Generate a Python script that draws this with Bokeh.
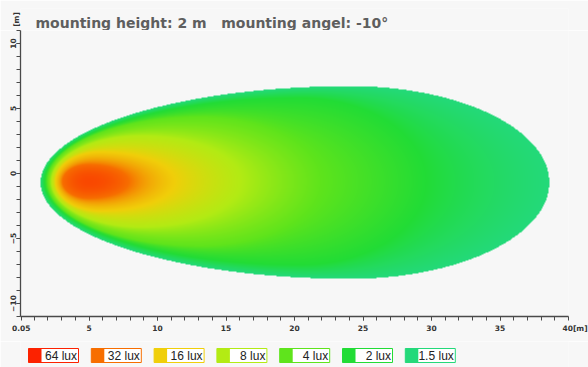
import numpy as np
from bokeh.plotting import figure
from bokeh.models import FixedTicker, Range1d
from bokeh.layouts import column
from bokeh.embed import file_html
from bokeh.resources import INLINE
from bokeh.core.properties import value

# ---------------- data ----------------
title_text = "mounting height: 2 m   mounting angel: -10°"
unit_text = "[m]"

legend_labels = ["64 lux", "32 lux", "16 lux", "8 lux", "4 lux", "2 lux", "1.5 lux"]
legend_colors = ["#fc2200", "#f76e00", "#f0cf0a", "#b3eb14", "#5fe41c", "#22dc36", "#24d97a"]

# isolux contours (metres), outermost first
contour_lux = [1.5, 2, 4, 8, 16, 32]
contour_left = [1.46, 1.75, 1.97, 2.26, 2.55, 3.07]
contour_widest = [24.1, 20.4, 13.1, 8.76, 5.84, 4.96]
contour_right = [38.6, 29.6, 21.9, 16.1, 11.3, 7.9]
contour_half = [7.41, 6.42, 4.97, 3.51, 2.29, 1.30]
contour_center = [-0.69, -0.61, -0.61, -0.61, -0.61, -0.61]
peak_lux = 45

x_major = [0.05, 5, 10, 15, 20, 25, 30, 35, 40]
x_minor = list(range(1, 40))
y_major = [-10, -5, 0, 5, 10]
y_minor = list(range(-11, 12))

X0, X1 = 0.0, 40.0
Y0, Y1 = -11.0, 11.0

BG = "#f7f7f7"
AX = "#4a4a4a"
W = 588
BL, BR = 20, 20          # left / right borders shared by all strips

# ---------------- illuminance field from the contours ----------------
nx, ny = 548, 286
xs = X0 + (np.arange(nx) + 0.5) * (X1 - X0) / nx
ys = Y0 + (np.arange(ny) + 0.5) * (Y1 - Y0) / ny
X, Y = np.meshgrid(xs, ys)

K = len(contour_lux)
r = []
for k in range(K):
    w = contour_widest[k]
    u = np.where(X >= w, (X - w) / (contour_right[k] - w), (w - X) / (w - contour_left[k]))
    v = (Y - contour_center[k]) / contour_half[k]
    r.append(np.sqrt(u ** 2 + v ** 2))
r = np.array(r)
inside = r < 1
deep = np.full(X.shape, -1)
for k in range(K):
    deep = np.where(inside[k], k, deep)

s = np.full(X.shape, np.nan)
for k in range(K - 1):
    m = deep == k
    a = 1 - r[k]
    b = r[k + 1] - 1
    t = a / np.maximum(a + b, 1e-9)
    s[m] = k + t[m]
m = deep == K - 1
s[m] = (K - 1) + np.log2(peak_lux / contour_lux[-1]) * (1 - r[K - 1][m] ** 2)

pal = np.array([[int(c[i:i + 2], 16) for i in (1, 3, 5)] for c in legend_colors[::-1]], dtype=float)
ss = np.nan_to_num(s, nan=0.0)
i0 = np.clip(np.floor(ss).astype(int), 0, len(pal) - 2)
f = (ss - i0)[..., None]
rgb = pal[i0] * (1 - f) + pal[i0 + 1] * f

img = np.zeros((ny, nx), dtype=np.uint32)
view = img.view(dtype=np.uint8).reshape((ny, nx, 4))
view[..., 0] = rgb[..., 0].astype(np.uint8)
view[..., 1] = rgb[..., 1].astype(np.uint8)
view[..., 2] = rgb[..., 2].astype(np.uint8)
view[..., 3] = np.where(deep >= 0, 255, 0).astype(np.uint8)


def strip(height, top):
    fig = figure(width=W, height=height, x_range=Range1d(BL, W - BR), y_range=Range1d(0, height - top),
                 output_backend="svg", toolbar_location=None,
                 min_border_left=BL, min_border_right=BR, min_border_top=top, min_border_bottom=0,
                 x_axis_location=None, y_axis_location=None)
    fig.background_fill_color = BG
    fig.border_fill_color = BG
    fig.outline_line_color = None
    fig.grid.visible = False
    return fig


# ---------------- header strip (title + y unit) ----------------
hf = figure(width=W, height=30, x_range=Range1d(BL, W - BR), y_range=Range1d(0, 22),
            output_backend="svg", toolbar_location=None,
            min_border_left=BL, min_border_right=BR, min_border_top=8, min_border_bottom=0,
            x_axis_location=None, y_axis_location="left")
hf.background_fill_color = BG
hf.border_fill_color = BG
hf.outline_line_color = None
hf.grid.visible = False
hf.yaxis.ticker = FixedTicker(ticks=[])
hf.yaxis.axis_line_color = None
hf.yaxis.major_tick_line_color = None
hf.yaxis.minor_tick_line_color = None
hf.yaxis.axis_label = unit_text
hf.yaxis.axis_label_standoff = 0
hf.yaxis.axis_label_text_font = "DejaVu Sans"
hf.yaxis.axis_label_text_font_style = "bold"
hf.yaxis.axis_label_text_font_size = "7.5px"
hf.yaxis.axis_label_text_color = "#333333"
hf.text(x=[35], y=[8], text=[title_text.replace("   ", "\u00a0\u00a0\u00a0")],
        text_align="left", text_baseline="alphabetic",
        text_font=value("DejaVu Sans"), text_font_style="bold", text_font_size="14px",
        text_color="#5e5e5e")

# ---------------- main figure ----------------
p = figure(width=W, height=311, x_range=Range1d(X0, X1), y_range=Range1d(Y0, Y1),
           output_backend="svg", toolbar_location=None,
           min_border_left=BL, min_border_right=BR, min_border_top=0, min_border_bottom=25)
p.background_fill_color = BG
p.border_fill_color = BG
p.outline_line_color = None
p.grid.visible = False

p.image_rgba(image=[img], x=X0, y=Y0, dw=X1 - X0, dh=Y1 - Y0)

for ax in (p.xaxis, p.yaxis):
    ax.axis_line_color = AX
    ax.axis_line_width = 1.3
    ax.major_tick_line_color = AX
    ax.minor_tick_line_color = AX
    ax.major_tick_in = 0
    ax.minor_tick_in = 0
    ax.major_tick_out = 4
    ax.minor_tick_out = 4
    ax.major_label_text_font = "DejaVu Sans"
    ax.major_label_text_font_style = "bold"
    ax.major_label_text_font_size = "7.5px"
    ax.major_label_text_color = "#333333"
    ax.major_label_standoff = 3

p.xaxis.ticker = FixedTicker(ticks=x_major, minor_ticks=x_minor)
p.xaxis.major_label_overrides = {40: "\u00a0" * 5 + "40" + unit_text}
p.yaxis.ticker = FixedTicker(ticks=y_major, minor_ticks=y_minor)
p.yaxis.major_label_orientation = "vertical"
p.yaxis.major_label_standoff = 1

# ---------------- legend strip ----------------
lf = strip(26, 0)
item_left = [28 + 62.8 * i for i in range(len(legend_labels))]
item_right = [xl + 50 for xl in item_left]
sq_right = [xl + 13 for xl in item_left]
lf.quad(left=item_left, right=item_right, bottom=5, top=19,
        fill_color="white", line_color=legend_colors, line_width=1)
lf.quad(left=item_left, right=sq_right, bottom=5, top=19,
        fill_color=legend_colors, line_color=None)
lf.text(x=[xr - 1.5 for xr in item_right], y=12, text=legend_labels,
        text_align="right", text_baseline="middle",
        text_font=value("Liberation Sans"), text_font_size="12px", text_color="#222222")

layout = column(hf, p, lf)
open("out.html", "w").write(file_html(layout, INLINE))
